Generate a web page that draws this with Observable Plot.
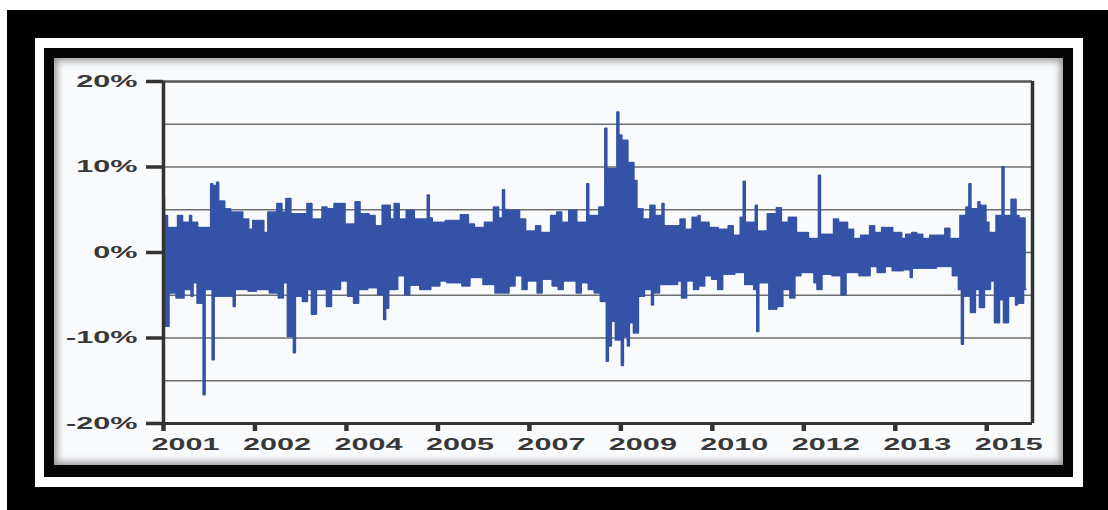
<!DOCTYPE html>
<html><head><meta charset="utf-8">
<script src="https://cdn.jsdelivr.net/npm/d3@7"></script>
<script src="https://cdn.jsdelivr.net/npm/@observablehq/plot@0.6"></script>
<style>
html,body{margin:0;padding:0;background:#fff;width:1108px;height:510px;overflow:hidden;}
#outer{position:absolute;left:7px;top:10px;width:1101px;height:500px;background:#000;}
#white{position:absolute;left:35px;top:38px;width:1048px;height:449px;background:#fff;}
#inner{position:absolute;left:44px;top:48px;width:1029px;height:429px;background:#050505;}
#panel{position:absolute;left:54px;top:58px;width:1009px;height:407px;background:#f9fafc;box-shadow:inset 0 0 7px 3px rgba(70,70,70,.55);}
#chart{position:absolute;left:0;top:0;}
</style></head><body>
<div id="outer"></div><div id="white"></div><div id="inner"></div>
<div id="panel"><div id="chart"></div></div>
<script>
// Weekly-ish return series: per period high and low return (%)
const startYear = 2001;
const periodsPerYear = 19;
const xDomain = [2001, 2016.2];
const yDomain = [-20, 20];
const gridValues = [15, 10, 5, 0, -5, -10, -15];
const yTicks = [-20, -10, 0, 10, 20];
const yTickLabels = ["-20%", "-10%", "0%", "10%", "20%"];
const xTicks = [2001, 2002.6, 2004.2, 2005.8, 2007.4, 2009.0, 2010.6, 2012.2, 2013.8, 2015.4];
const xTickLabels = ["2001", "2002", "2004", "2005", "2007", "2009", "2010", "2012", "2013", "2015"];

const highs = [
  6.4,4.3,2.9,2.9,2.9,4.3,4.3,3.5,3.5,4.3,
  3.5,3.5,2.9,2.9,2.9,2.9,8.0,7.8,8.2,6.0,
  6.0,5.1,5.1,4.7,4.7,4.7,4.7,3.9,3.9,2.7,
  3.7,3.7,3.7,3.7,2.3,4.7,4.7,4.7,5.7,5.7,
  4.7,6.3,6.3,4.5,4.5,4.5,4.5,4.5,5.7,5.7,
  3.9,3.9,3.9,5.3,5.3,5.1,5.1,5.7,5.7,5.7,
  5.7,3.3,3.3,3.3,5.9,5.9,4.5,4.5,4.5,4.3,
  4.3,3.1,3.1,5.5,5.5,5.5,3.9,5.7,5.7,3.9,
  3.9,4.9,4.9,4.9,3.9,3.9,3.9,3.9,6.7,4.0,
  3.5,3.5,3.5,3.5,3.7,3.7,3.7,3.7,3.7,4.4,
  4.4,4.4,3.3,3.3,2.9,2.9,2.9,3.5,3.5,3.5,
  5.3,5.3,4.0,7.3,5.0,4.9,4.9,4.9,4.9,3.9,
  3.9,2.5,2.5,2.5,3.1,3.1,2.3,2.3,2.3,4.3,
  4.3,4.7,4.7,3.5,3.5,4.9,4.9,4.9,3.5,3.5,
  3.5,8.0,4.3,4.3,4.3,5.3,5.3,14.5,9.8,9.8,
  9.8,16.4,13.7,13.1,13.1,10.5,10.5,8.4,5.1,5.1,
  3.9,3.9,5.5,5.5,4.3,4.3,5.7,3.1,3.1,3.1,
  3.1,3.1,3.9,3.9,2.7,2.7,4.1,4.1,4.3,3.5,
  3.5,3.5,2.9,2.9,2.9,2.7,2.7,2.7,3.1,3.1,
  2.0,2.0,4.1,8.3,3.5,3.5,3.5,5.5,2.5,2.5,
  2.5,4.5,4.5,4.5,5.2,5.2,3.5,3.5,4.1,4.1,
  4.1,2.3,2.3,2.3,2.3,1.6,1.6,1.6,9.0,2.1,
  2.1,2.1,2.1,3.9,3.9,3.5,3.5,3.5,2.7,2.7,
  1.6,1.6,2.0,2.0,2.0,3.1,3.1,2.3,2.3,2.9,
  2.9,2.9,2.9,2.3,2.3,2.3,1.6,2.1,2.1,2.3,
  2.3,2.1,2.1,1.6,1.6,2.0,2.0,2.0,2.0,2.0,
  2.8,2.8,1.6,1.6,1.6,4.3,4.3,5.3,8.0,5.1,
  5.1,5.9,5.5,5.5,3.5,2.3,2.3,4.3,4.3,10.0,
  4.3,4.3,6.2,6.2,4.3,4.0,4.0
];
const lows = [
  -8.6,-8.6,-4.7,-4.7,-5.3,-5.3,-5.3,-4.3,-4.3,-5.1,
  -3.5,-5.9,-5.9,-16.6,-4.3,-4.3,-12.5,-5.1,-5.1,-5.1,
  -5.1,-5.1,-5.1,-6.3,-4.3,-4.3,-4.3,-4.3,-4.5,-4.5,
  -4.5,-4.3,-4.3,-4.3,-4.3,-4.7,-4.7,-4.7,-5.3,-5.3,
  -3.5,-9.8,-9.8,-11.7,-5.1,-5.1,-5.7,-5.7,-4.3,-7.2,
  -7.2,-4.3,-4.3,-4.3,-6.3,-6.3,-4.3,-4.3,-4.3,-3.3,
  -3.3,-5.1,-5.1,-5.9,-5.9,-4.3,-4.3,-4.3,-4.1,-4.1,
  -4.1,-4.9,-4.9,-7.8,-6.5,-4.3,-4.3,-4.3,-2.7,-2.7,
  -4.9,-4.9,-3.8,-3.8,-3.8,-4.3,-4.3,-4.3,-4.3,-3.9,
  -3.9,-3.9,-3.3,-3.3,-3.5,-3.5,-3.5,-3.5,-3.5,-3.9,
  -3.9,-3.9,-2.9,-2.9,-2.9,-2.9,-3.7,-3.7,-3.7,-3.7,
  -4.7,-4.7,-4.7,-4.7,-4.7,-3.9,-3.9,-2.7,-2.7,-4.3,
  -4.3,-3.3,-3.3,-3.3,-4.7,-4.7,-3.1,-3.1,-3.1,-3.9,
  -3.9,-4.3,-4.3,-3.3,-3.3,-3.3,-3.3,-4.7,-4.7,-3.5,
  -3.5,-4.3,-4.3,-4.7,-4.7,-5.7,-5.7,-12.7,-10.9,-8.0,
  -10.2,-10.2,-13.2,-9.8,-10.9,-8.2,-9.4,-9.4,-5.1,-5.1,
  -4.3,-4.3,-6.1,-4.7,-4.7,-3.7,-3.7,-3.7,-3.7,-3.7,
  -3.7,-3.3,-5.3,-5.3,-3.3,-3.3,-4.3,-4.3,-3.9,-3.9,
  -2.7,-2.7,-3.1,-3.1,-4.3,-4.3,-2.5,-2.5,-2.5,-2.5,
  -2.3,-2.3,-2.3,-3.7,-3.7,-3.7,-4.3,-9.2,-3.5,-3.5,
  -3.5,-6.6,-6.6,-6.6,-6.3,-6.3,-4.3,-4.3,-5.3,-5.3,
  -2.7,-2.7,-2.3,-2.3,-2.3,-2.3,-3.5,-4.3,-4.3,-2.5,
  -2.5,-2.5,-2.7,-2.7,-2.7,-4.9,-4.9,-2.3,-2.3,-2.3,
  -2.3,-2.7,-2.7,-2.7,-2.7,-1.6,-1.6,-2.3,-2.3,-2.3,
  -1.6,-1.6,-2.1,-2.1,-2.1,-2.1,-2.0,-2.0,-2.9,-1.8,
  -1.8,-1.8,-1.8,-1.8,-1.8,-1.8,-1.8,-1.6,-1.6,-1.6,
  -1.6,-1.6,-2.7,-2.7,-4.3,-10.7,-5.1,-5.1,-7.0,-7.0,
  -4.3,-6.4,-6.4,-4.3,-4.3,-3.3,-8.2,-8.2,-5.5,-8.2,
  -8.2,-5.1,-5.1,-6.1,-5.9,-5.9,-4.3
];

// Sequence of observations: each period contributes its high then its low
const series = [];
highs.forEach((h, i) => {
  series.push({t: startYear + i / periodsPerYear, r: h});
  series.push({t: startYear + (i + 0.5) / periodsPerYear, r: lows[i]});
});

const svg = Plot.plot({
  width: 1009,
  height: 407,
  marginLeft: 109,
  marginRight: 31,
  marginTop: 23,
  marginBottom: 42,
  style: {background: "transparent", fontFamily: "'Liberation Sans', Arial, sans-serif", fontSize: "17px", fontWeight: "bold", color: "#383838", overflow: "visible"},
  x: {type: "linear", domain: xDomain},
  y: {domain: yDomain},
  marks: [
    Plot.gridY(gridValues, {stroke: "#6e6e6e", strokeOpacity: 1, strokeWidth: 1.5}),
    Plot.ruleY([yDomain[1]], {stroke: "#555", strokeWidth: 2.5}),
    Plot.line(series, {x: "t", y: "r", stroke: "#3553a6", strokeWidth: 2, curve: "step"}),
    Plot.ruleY([yDomain[0]], {stroke: "#333", strokeWidth: 3}),
    Plot.ruleX(xDomain, {stroke: "#333", strokeWidth: 3.5}),
    Plot.axisY(yTicks, {tickSize: 17, tickPadding: 9, stroke: "#333", strokeWidth: 3.5, tickFormat: (d, i) => yTickLabels[i], label: null}),
    Plot.axisX(xTicks, {tickSize: 8, stroke: "#333", strokeWidth: 4.5, tickFormat: () => "", label: null}),
    Plot.axisX(xTicks, {tickSize: 0, tickPadding: 14, dx: 22, tickFormat: (d, i) => xTickLabels[i], label: null})
  ]
});
document.getElementById("chart").appendChild(svg);

// The reference picture's lettering is stretched horizontally
const SX = 1.8;
svg.querySelectorAll('g[aria-label="x-axis tick label"] text, g[aria-label="y-axis tick label"] text').forEach(t => {
  const ax = +(t.getAttribute("x") || 0);
  const tr = t.getAttribute("transform") || "";
  t.setAttribute("transform", `${tr} translate(${ax},0) scale(${SX},1) translate(${-ax},0)`);
});
</script></body></html>
